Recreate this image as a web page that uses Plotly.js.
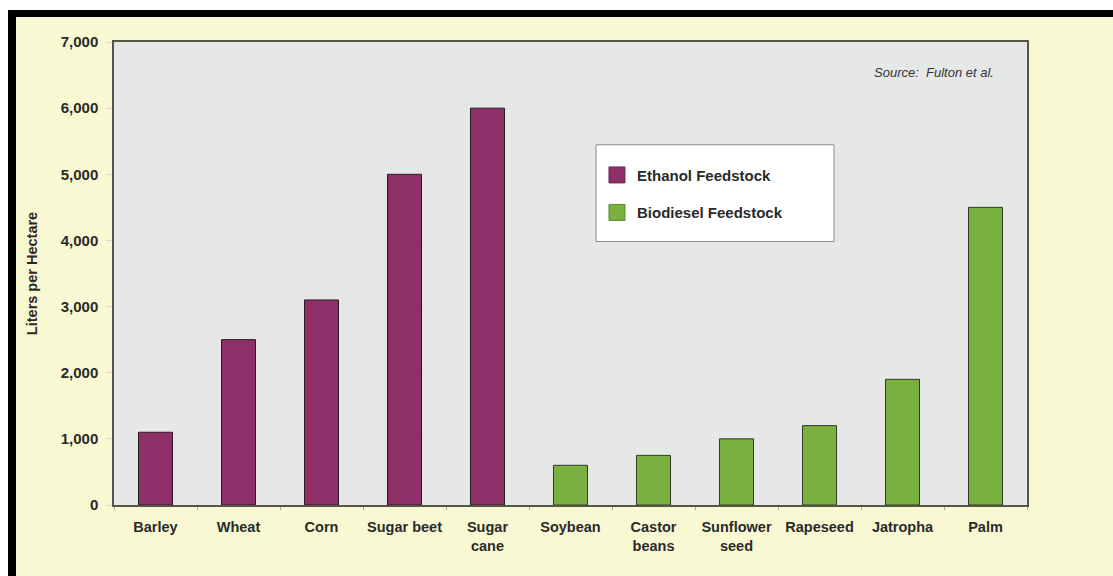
<!DOCTYPE html>
<html><head><meta charset="utf-8">
<script src="https://cdn.plot.ly/plotly-3.0.1.min.js"></script>
<style>
body{margin:0;padding:0;background:#ffffff;}
#wrap{position:relative;width:1113px;height:576px;background:#ffffff;overflow:hidden;}
#topbar{position:absolute;left:8px;top:10px;width:1105px;height:7px;background:#000;}
#leftbar{position:absolute;left:8px;top:10px;width:8px;height:566px;background:#000;}
#chart{position:absolute;left:16px;top:17px;width:1097px;height:559px;}
</style></head>
<body>
<div id="wrap"><div id="topbar"></div><div id="leftbar"></div><div id="chart"></div></div>
<script>
const categories = ["Barley","Wheat","Corn","Sugar beet","Sugar<br>cane","Soybean","Castor<br>beans","Sunflower<br>seed","Rapeseed","Jatropha","Palm"];
const ethanolCats = ["Barley","Wheat","Corn","Sugar beet","Sugar<br>cane"];
const ethanolVals = [1100, 2500, 3100, 5000, 6000];
const biodieselCats = ["Soybean","Castor<br>beans","Sunflower<br>seed","Rapeseed","Jatropha","Palm"];
const biodieselVals = [600, 750, 1000, 1200, 1900, 4500];
const yTickVals = [0,1000,2000,3000,4000,5000,6000,7000];
const yTickText = ["0","1,000","2,000","3,000","4,000","5,000","6,000","7,000"];
const seriesNames = ["Ethanol Feedstock","Biodiesel Feedstock"];
const seriesColors = ["#8e2f68","#7ab03f"];

const FAM = "Liberation Sans, Arial, sans-serif";

const traces = [
  {type:"bar", name:seriesNames[0], x:ethanolCats, y:ethanolVals, showlegend:false,
   marker:{color:seriesColors[0], line:{color:"#2a1a22", width:1}}, hoverinfo:"x+y"},
  {type:"bar", name:seriesNames[1], x:biodieselCats, y:biodieselVals, showlegend:false,
   marker:{color:seriesColors[1], line:{color:"#2f3a22", width:1}}, hoverinfo:"x+y"},
  {type:"scatter", mode:"markers", name:"<b>"+seriesNames[0]+"</b>", x:[null], y:[null], legendgroup:"a",
   marker:{symbol:"square", size:17, color:seriesColors[0], line:{color:"#6a2a50", width:1}}},
  {type:"scatter", mode:"markers", name:"<b>"+seriesNames[1]+"</b>", x:[null], y:[null], legendgroup:"b",
   marker:{symbol:"square", size:17, color:seriesColors[1], line:{color:"#5a8a30", width:1}}}
];

const layout = {
  width:1097, height:559,
  margin:{l:98, r:86, t:25, b:71, pad:0},
  paper_bgcolor:"#f8f8d2",
  plot_bgcolor:"#e6e8e8",
  barmode:"overlay",
  bargap:0.59,
  font:{family:FAM, size:14, color:"#2a2a2a"},
  xaxis:{type:"category", categoryorder:"array", categoryarray:categories,
    showline:true, linecolor:"#555548", linewidth:1.5, mirror:true,
    ticks:"outside", tickson:"boundaries", ticklen:3, tickcolor:"#a8a89e",
    ticklabelstandoff:8, tickangle:0,
    tickfont:{family:FAM, size:14.5, color:"#2a2a2a", weight:"bold"},
    showgrid:false, fixedrange:true},
  yaxis:{range:[0,7000], tickvals:yTickVals, ticktext:yTickText,
    showline:true, linecolor:"#555548", linewidth:1.5, mirror:true,
    ticks:"outside", ticklen:6, tickcolor:"#d8dad8", ticklabelstandoff:5,
    tickfont:{family:FAM, size:15, color:"#2a2a2a", weight:"bold"},
    showgrid:true, gridcolor:"#e2e4e3", gridwidth:1, zeroline:false,
    title:{text:"<b>Liters per Hectare</b>", font:{size:14.5, family:FAM, color:"#2a2a2a"}, standoff:20},
    fixedrange:true},
  showlegend:true,
  legend:{x:0.529, xanchor:"left", y:0.748, yanchor:"top", bgcolor:"rgba(0,0,0,0)", borderwidth:0,
    traceorder:"grouped", tracegroupgap:15, itemsizing:"trace",
    font:{family:FAM, size:15, color:"#2a2a2a"}},
  shapes:[
    {type:"rect", xref:"paper", yref:"paper", x0:0.528, x1:0.7886, y0:0.569, y1:0.778,
     fillcolor:"#ffffff", line:{color:"#8a8a8a", width:1}, layer:"above"}
  ],
  annotations:[
    {text:"<i>Source:  Fulton et al.</i>", xref:"paper", yref:"paper", x:0.9655, y:0.935,
     xanchor:"right", yanchor:"middle", showarrow:false,
     font:{family:FAM, size:13, color:"#333333"}}
  ]
};

Plotly.newPlot("chart", traces, layout, {displayModeBar:false});
</script>
</body></html>
